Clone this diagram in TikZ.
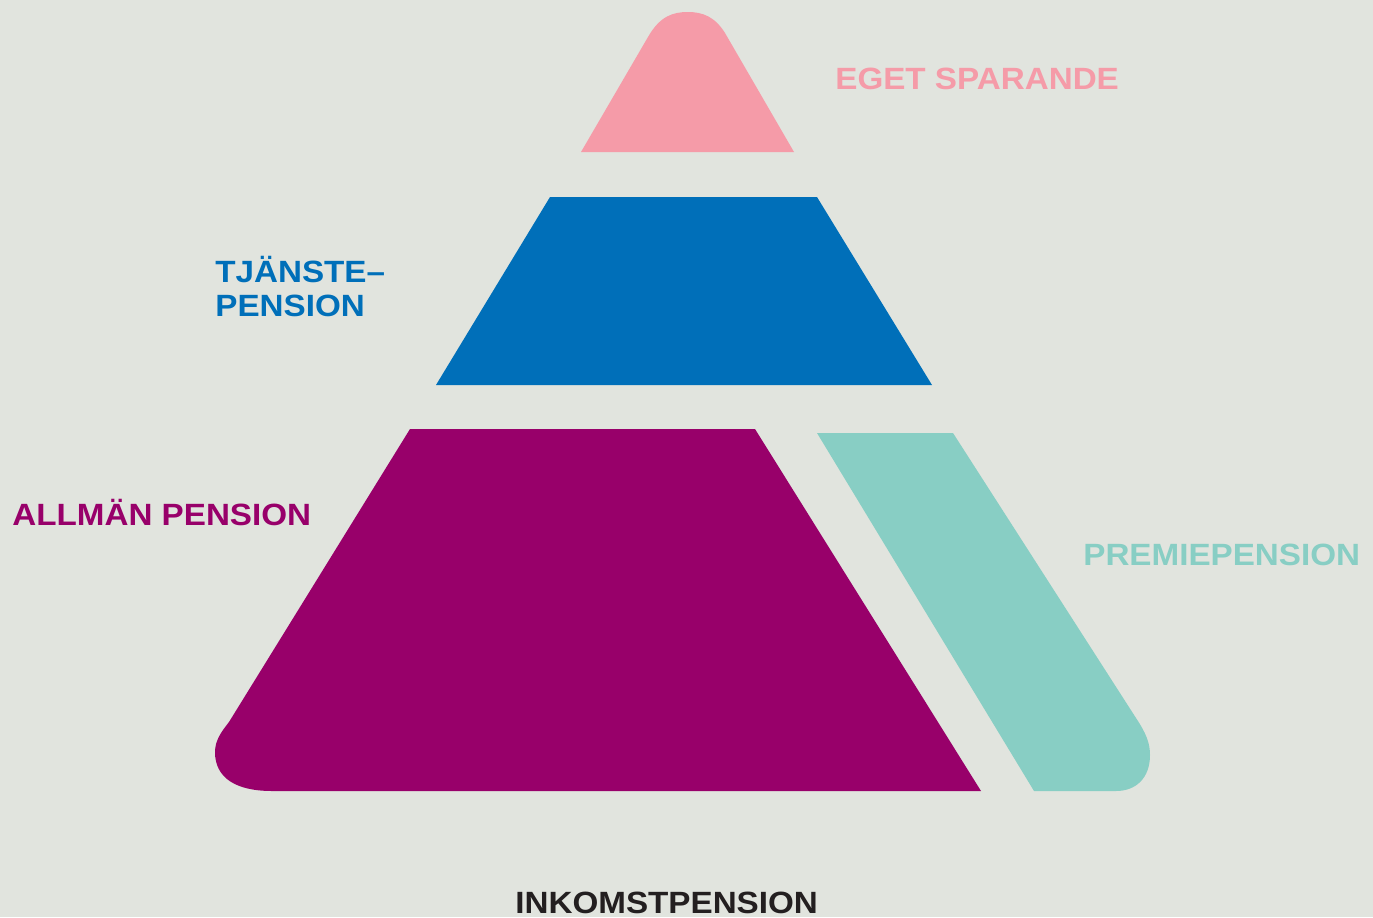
\documentclass[tikz,border=0pt]{standalone}
\usepackage{fontspec}
\setmainfont{Liberation Sans}[FakeStretch=1.08]
\usepackage{xcolor}
\definecolor{colorGround}{HTML}{E1E4DE}
\definecolor{colorSparande}{HTML}{F59BA8}
\definecolor{colorTjanste}{HTML}{006FB9}
\definecolor{colorAllman}{HTML}{98006A}
\definecolor{colorPremie}{HTML}{88CEC4}
\definecolor{colorInkomst}{HTML}{231F20}
\usepackage{tikz}
\usetikzlibrary{positioning}
\tikzset{label text/.style={anchor=base west, inner sep=0pt, text depth=0pt, font=\fontsize{17.5}{34}\selectfont\bfseries, align=left}}

\begin{document}
\begin{tikzpicture}[x=0.02cm, y=-0.02cm]
\fill[colorGround] (0,0) rectangle (1373,917);
\useasboundingbox (0,0) rectangle (1373,917);
% layers
\fill[colorSparande] (581,152) -- (648,37) .. controls (660,16) and (673,12) .. (688,12) .. controls (703,12) and (715,17) .. (725,33) -- (794,152) -- cycle;
\fill[colorTjanste] (550,197) -- (817,197) -- (932,385) -- (436,385) -- cycle;
\fill[colorAllman] (410,429) -- (755,429) -- (981,791) -- (272,791) .. controls (236,791) and (215,778) .. (215,752) .. controls (215,740) and (222,731) .. (229,722) -- cycle;
\fill[colorPremie] (817,433) -- (953,433) -- (1136,718) .. controls (1146,733) and (1150,743) .. (1150,755) .. controls (1150,778) and (1136,791) .. (1116,791) -- (1034,791) -- cycle;
% labels
\node[label text, text=colorSparande] (eget) at (835,89) {EGET SPARANDE};
\node[label text, text=colorTjanste] (tjanste) at (215,282) {TJÄNSTE–};
\node[label text, text=colorTjanste, below=34*0.02cm of tjanste.base west, anchor=base west] (tjanstepension) {PENSION};
\node[label text, text=colorAllman] (allman) at (12,525) {ALLMÄN PENSION};
\node[label text, text=colorPremie] (premie) at (1083,565) {PREMIEPENSION};
\node[label text, text=colorInkomst] (inkomst) at (515,913) {INKOMSTPENSION};
\end{tikzpicture}
\end{document}
